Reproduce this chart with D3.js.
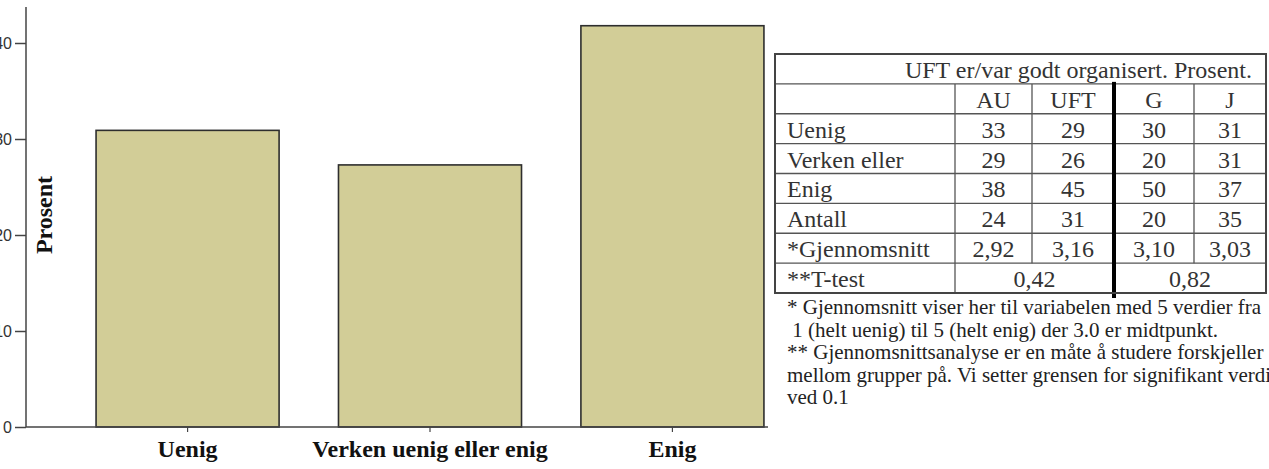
<!DOCTYPE html>
<html>
<head>
<meta charset="utf-8">
<script src="https://cdn.jsdelivr.net/npm/d3@7"></script>
<style>
    body { margin: 0; background: #fff; }
    svg { display: block; }
</style>
</head>
<body>
<div id="chart"></div>
<script>
var categories = ['Uenig', 'Verken uenig eller enig', 'Enig'],
    percent = [30.9, 27.3, 41.8],
    yTicks = [0, 10, 20, 30, 40],
    tableTitle = 'UFT er/var godt organisert. Prosent.',
    tableCols = ['AU', 'UFT', 'G', 'J'],
    tableRows = ['Uenig', 'Verken eller', 'Enig', 'Antall', '*Gjennomsnitt'],
    tableValues = [['33', '29', '30', '31'],
    ['29', '26', '20', '31'],
    ['38', '45', '50', '37'],
    ['24', '31', '20', '35'],
    ['2,92', '3,16', '3,10', '3,03']],
    tTestLabel = '**T-test',
    tTest = ['0,42', '0,82'],
    footnotes = ['* Gjennomsnitt viser her til variabelen med 5 verdier fra',
    '\u00a01 (helt uenig) til 5 (helt enig) der 3.0 er midtpunkt.',
    '** Gjennomsnittsanalyse er en måte å studere forskjeller',
    'mellom grupper på. Vi setter grensen for signifikant verdi',
    'ved 0.1'];

var serif = '"Liberation Serif", "Times New Roman", serif';

init();

function init() {
    let svg = d3.select('#chart').append('svg')
        .attr('width', 1269)
        .attr('height', 469);

    drawBars(svg);
    drawTable(svg);
}

function drawBars(svg) {
    let x = d3.scaleBand()
        .domain(categories)
        .range([26, 834])
        .paddingInner(0.245)
        .paddingOuter(0.289);

    let y = d3.scaleLinear()
        .domain([0, 43.75])
        .range([427, 7]);

    // Bars
    svg.append('g')
        .selectAll('rect')
        .data(percent)
        .enter().append('rect')
        .attr('x', (d, i) => x(categories[i]))
        .attr('y', d => y(d))
        .attr('width', x.bandwidth())
        .attr('height', d => y(0) - y(d))
        .attr('fill', '#d2cd97')
        .attr('stroke', '#2e2e2e')
        .attr('stroke-width', 1.6);

    // Y axis
    let yAxis = svg.append('g')
        .attr('transform', 'translate(26,0)')
        .call(d3.axisLeft(y).tickValues(yTicks).tickSize(11).tickPadding(3));
    yAxis.select('.domain').attr('d', 'M0,' + y.range()[1] + 'V' + y(0)).attr('stroke', '#444').attr('stroke-width', 1.5);
    yAxis.selectAll('.tick line').attr('stroke', '#444').attr('stroke-width', 1.5);
    yAxis.selectAll('.tick text')
        .attr('fill', '#333')
        .style('font', '16px "Liberation Sans", Arial, sans-serif');

    // X axis
    let xAxis = svg.append('g')
        .attr('transform', 'translate(0,' + y(0) + ')')
        .call(d3.axisBottom(x).tickSize(5).tickPadding(12));
    xAxis.select('.domain').attr('d', 'M26,0H768').attr('stroke', '#444').attr('stroke-width', 1.5);
    xAxis.selectAll('.tick line').attr('stroke', '#444').attr('stroke-width', 1.2);
    xAxis.selectAll('.tick text')
        .attr('fill', '#111')
        .attr('dy', null)
        .attr('y', 30)
        .style('font', 'bold 24px ' + serif);

    svg.append('text')
        .attr('transform', 'translate(52,215) rotate(-90)')
        .attr('text-anchor', 'middle')
        .attr('fill', '#111')
        .style('font', 'bold 24px ' + serif)
        .text('Prosent');
}

function drawTable(svg) {
    let colEdges = [775, 955, 1032, 1114, 1194, 1266],
        rowY = d3.scaleLinear().domain([0, 8]).range([54, 293]),
        g = svg.append('g').attr('fill', '#333').style('font', '24px ' + serif);

    // Grid
    let line = (x1, y1, x2, y2, w, c) => g.append('line')
        .attr('x1', x1).attr('y1', y1).attr('x2', x2).attr('y2', y2)
        .attr('stroke', c || '#555').attr('stroke-width', w || 1.3);

    d3.range(1, 8).forEach(r => line(colEdges[0], rowY(r), colEdges[5], rowY(r)));
    [1, 2, 4].forEach(c => line(colEdges[c], rowY(1), colEdges[c], c === 1 ? rowY(8) : rowY(7)));
    line(colEdges[3], rowY(1) - 2, colEdges[3], rowY(8) + 5, 4, '#000');
    g.append('rect')
        .attr('x', colEdges[0]).attr('y', rowY(0))
        .attr('width', colEdges[5] - colEdges[0]).attr('height', rowY(8) - rowY(0))
        .attr('fill', 'none').attr('stroke', '#444').attr('stroke-width', 2);

    // Texts
    let title = g.append('text')
        .attr('x', 1252).attr('y', rowY(1) - 6)
        .attr('text-anchor', 'end')
        .text(tableTitle);
    fit(title, 362);

    let colMid = i => (colEdges[i + 1] + colEdges[i + 2]) / 2;

    g.selectAll('.head')
        .data(tableCols)
        .enter().append('text')
        .attr('x', (d, i) => colMid(i))
        .attr('y', rowY(2) - 6)
        .attr('text-anchor', 'middle')
        .text(d => d);

    tableRows.forEach((label, r) => {
        let t = g.append('text')
            .attr('x', 787).attr('y', rowY(r + 3) - 6)
            .text(label);
        fit(t, colEdges[1] - 787 - 6);
        g.selectAll(null)
            .data(tableValues[r])
            .enter().append('text')
            .attr('x', (d, i) => colMid(i))
            .attr('y', rowY(r + 3) - 6)
            .attr('text-anchor', 'middle')
            .text(d => d);
    });

    g.append('text')
        .attr('x', 787).attr('y', rowY(8) - 6)
        .text(tTestLabel);
    g.selectAll(null)
        .data(tTest)
        .enter().append('text')
        .attr('x', (d, i) => (colEdges[1 + i * 2] + colEdges[3 + i * 2]) / 2)
        .attr('y', rowY(8) - 6)
        .attr('text-anchor', 'middle')
        .text(d => d);

    // Footnotes
    svg.append('g')
        .selectAll('text')
        .data(footnotes)
        .enter().append('text')
        .attr('x', 787)
        .attr('y', (d, i) => 314 + i * 22.5)
        .attr('fill', '#222')
        .style('font', '21px ' + serif)
        .text(d => d);
}

function fit(t, maxW) {
    if (t.node().getComputedTextLength() > maxW)
        t.attr('textLength', maxW).attr('lengthAdjust', 'spacingAndGlyphs');
}
</script>
</body>
</html>
